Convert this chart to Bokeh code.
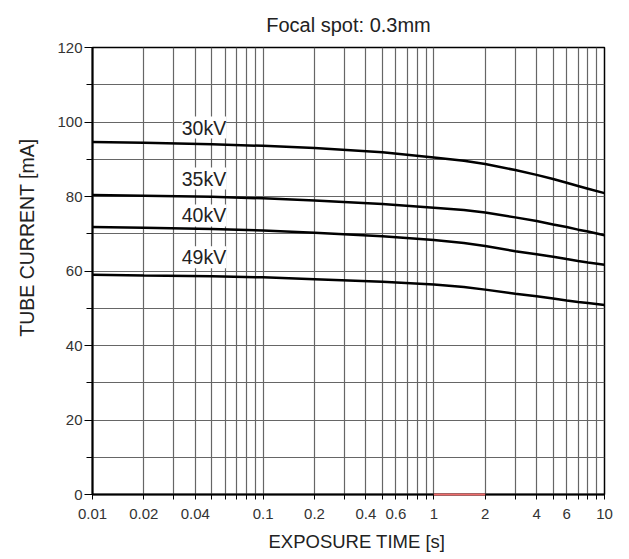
from bokeh.plotting import figure
from bokeh.models import (FixedTicker, Range1d, ColumnDataSource, LabelSet, Title,
                          CustomJSTickFormatter)
from bokeh.core.properties import value
from bokeh.embed import file_html
from bokeh.resources import INLINE

# ---- data ----
exposure_time = [0.01, 0.02, 0.05, 0.1, 0.2, 0.5, 1, 1.5, 2, 3, 4, 5, 6, 7, 8, 10]
current_30kv = [94.6, 94.4, 94.0, 93.6, 93.0, 91.9, 90.5, 89.6, 88.7, 87.1, 85.8, 84.7, 83.7, 82.8, 82.1, 80.9]
current_35kv = [80.4, 80.2, 79.9, 79.5, 78.9, 78.0, 77.0, 76.4, 75.7, 74.4, 73.4, 72.5, 71.8, 71.1, 70.6, 69.6]
current_40kv = [71.8, 71.6, 71.3, 70.9, 70.3, 69.3, 68.3, 67.5, 66.7, 65.3, 64.5, 63.8, 63.2, 62.7, 62.3, 61.7]
current_49kv = [59.0, 58.8, 58.6, 58.3, 57.8, 57.1, 56.4, 55.7, 55.0, 53.9, 53.2, 52.6, 52.1, 51.7, 51.4, 50.9]
series_names = ["30kV", "35kV", "40kV", "49kV"]
label_time = [0.045, 0.045, 0.045, 0.045]
label_current = [98.5, 84.8, 74.9, 63.7]

x_major_ticks = [0.01, 0.02, 0.04, 0.1, 0.2, 0.4, 0.6, 1, 2, 4, 6, 10]
x_minor_ticks = [0.03, 0.05, 0.06, 0.07, 0.08, 0.09,
                 0.3, 0.5, 0.7, 0.8, 0.9,
                 3, 5, 7, 8, 9]
y_major_ticks = [0, 20, 40, 60, 80, 100, 120]
y_minor_ticks = [10, 30, 50, 70, 90, 110]
highlight_time = [1, 2]
highlight_current = [0, 0]

FONT = "Liberation Sans"

p = figure(width=613, height=559, x_axis_type="log",
           x_range=Range1d(0.01, 10), y_range=Range1d(0, 120),
           output_backend="svg", toolbar_location=None,
           min_border_left=91, min_border_right=9,
           min_border_top=47, min_border_bottom=65,
           background_fill_color="white", border_fill_color="white")

p.title.text = "Focal spot: 0.3mm"
p.title.align = "center"
p.title.vertical_align = "top"
p.title.text_font = FONT
p.title.text_font_size = "20px"
p.title.text_font_style = "normal"
p.title.text_color = "#222222"
p.title.standoff = 19

p.outline_line_color = "black"
p.outline_line_width = 1.5

# x axis
xa = p.xaxis[0]
xa.ticker = FixedTicker(ticks=x_major_ticks, minor_ticks=x_minor_ticks)
xa.formatter = CustomJSTickFormatter(code="return tick.toString();")
xa.axis_line_color = "black"
xa.axis_line_width = 2
xa.major_tick_line_color = "black"
xa.minor_tick_line_color = "black"
xa.major_tick_out = 5
xa.major_tick_in = 0
xa.minor_tick_out = 5
xa.minor_tick_in = 0
xa.major_label_text_font = FONT
xa.major_label_text_font_size = "15px"
xa.major_label_text_color = "#333333"
xa.major_label_standoff = 9

# y axis
ya = p.yaxis[0]
ya.ticker = FixedTicker(ticks=y_major_ticks, minor_ticks=y_minor_ticks)
ya.axis_line_color = "black"
ya.axis_line_width = 2
ya.major_tick_line_color = "black"
ya.minor_tick_line_color = "black"
ya.major_tick_out = 8
ya.major_tick_in = 0
ya.minor_tick_out = 6
ya.minor_tick_in = 0
ya.major_label_text_font = FONT
ya.major_label_text_font_size = "15px"
ya.major_label_text_color = "#333333"
ya.major_label_standoff = 2

for g in (p.xgrid[0], p.ygrid[0]):
    g.grid_line_color = "#666666"
    g.grid_line_width = 1.2
    g.minor_grid_line_color = "#666666"
    g.minor_grid_line_width = 1.2

# curves
for ys in (current_30kv, current_35kv, current_40kv, current_49kv):
    p.line(exposure_time, ys, line_color="black", line_width=2.5)

hl = p.line(highlight_time, highlight_current, line_color="#ee6b6b", line_width=2)
hl.level = "overlay"

src = ColumnDataSource(dict(x=label_time, y=label_current, text=series_names))
p.add_layout(LabelSet(x="x", y="y", text="text", source=src,
                      text_align="center", text_baseline="middle",
                      text_font=value(FONT), text_font_size=value("19.5px"),
                      text_color="#222222",
                      background_fill_color="white", background_fill_alpha=1.0))

# axis titles
p.add_layout(Title(text="TUBE CURRENT [mA]", align="right", offset=91,
                   vertical_align="top",
                   text_font=FONT, text_font_size="19.5px", text_font_style="normal",
                   text_color="#222222", standoff=30), "left")
p.add_layout(Title(text="EXPOSURE TIME [s]", align="left", offset=176,
                   text_font=FONT, text_font_size="18.5px", text_font_style="normal",
                   text_color="#222222", standoff=14), "below")

open("out.html", "w").write(file_html(p, INLINE))
